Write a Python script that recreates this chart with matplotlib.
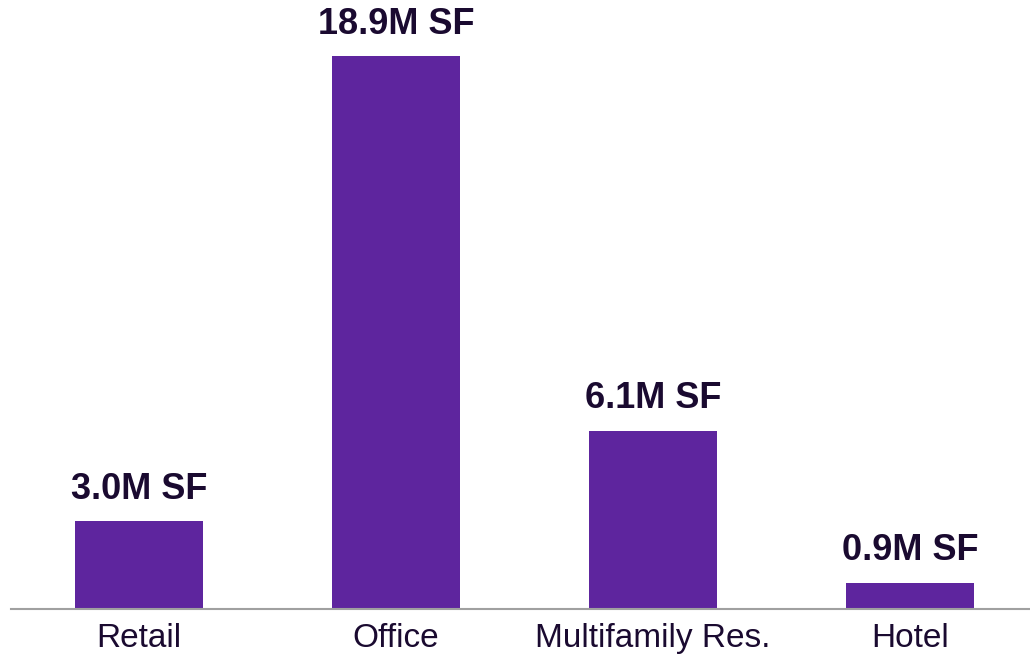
import matplotlib.pyplot as plt

categories = ["Retail", "Office", "Multifamily Res.", "Hotel"]
values = [3.0, 18.9, 6.1, 0.9]
labels = ["3.0M SF", "18.9M SF", "6.1M SF", "0.9M SF"]

plt.rcParams['font.family'] = ['Liberation Sans', 'DejaVu Sans']

fig = plt.figure(figsize=(10.30, 6.58), dpi=100)
W, H = 1030, 658
ax = fig.add_axes([10.5 / W, 49 / H, 1028 / W, 553 / H])

x = range(len(categories))
ax.bar(x, values, width=0.5, color="#5E259E")
ax.set_xlim(-0.5, 3.5)
ax.set_ylim(0, 18.9)

for xi, v, lab in zip(x, values, labels):
    ax.annotate(lab, (xi, v), xytext=(0, 16), textcoords="offset points",
                ha="center", va="baseline", fontsize=26, fontweight="bold",
                color="#1a0a30", annotation_clip=False)

ax.set_xticks(list(x))
ax.set_xticklabels(categories, fontsize=24, color="#1a0a30")
ax.tick_params(axis="x", length=0, pad=10)
ax.set_yticks([])
for s in ["top", "right", "left"]:
    ax.spines[s].set_visible(False)
ax.spines["bottom"].set_color("#a0a0a0")
ax.spines["bottom"].set_linewidth(1.5)

fig.savefig("out.png", dpi=100)
